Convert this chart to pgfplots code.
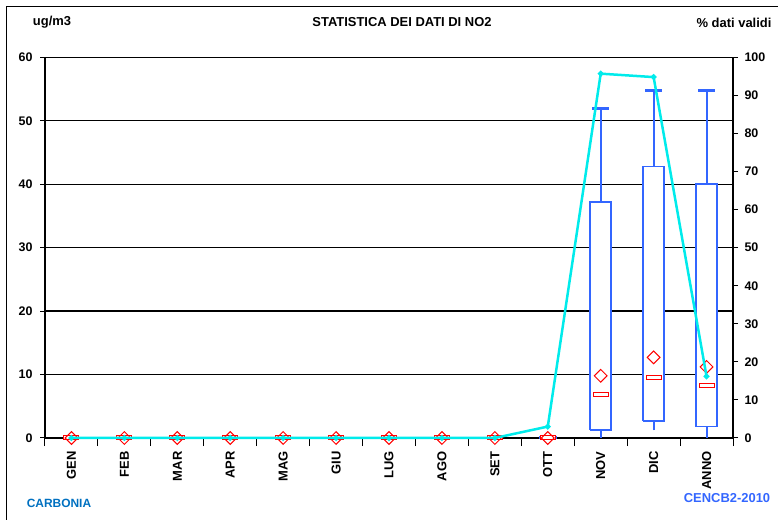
\documentclass[border=0pt]{standalone}
\usepackage{fontspec}
\setmainfont{Liberation Sans}
\usepackage{pgfplots}
\pgfplotsset{compat=1.18}
\definecolor{boxblue}{RGB}{51,102,255}
\definecolor{linecyan}{RGB}{0,235,235}
\definecolor{carb}{RGB}{0,112,192}
\pgfdeclareplotmark{medrect}{\pgfpathrectangle{\pgfpoint{-7.5bp}{-2bp}}{\pgfpoint{15bp}{4bp}}\pgfusepathqfillstroke}
\newcommand{\lbl}{\bfseries\fontsize{12.5}{12.5}\selectfont}
\newcommand{\ttl}{\bfseries\fontsize{13}{13}\selectfont}
\pgfplotsset{base/.style={at={(45bp,82bp)}, anchor=south west,
  scale only axis, width=688bp, height=380.7bp,
  xmin=-0.5, xmax=12.5, clip=false,
  /pgf/number format/assume math mode=true}}
\begin{document}
\begin{tikzpicture}
\useasboundingbox (0,0) rectangle (778bp,520bp);
\draw[line width=1bp] (6.5bp,0) -- (6.5bp,513bp) -- (778bp,513bp);
\node[font=\ttl] at (52bp,497.5bp) {ug/m3};
\node[font=\ttl] at (402bp,497.5bp) {STATISTICA DEI DATI DI NO2};
\node[font=\ttl] at (734bp,497.5bp) {\% dati validi};
\node[font=\bfseries\fontsize{12}{12}\selectfont, text=carb] at (59bp,17bp) {CARBONIA};
\node[font=\ttl, text=boxblue] at (727bp,22bp) {CENCB2-2010};
% axis 1: left scale, categories
\begin{axis}[base,
  ymin=0, ymax=60,
  axis x line*=bottom, axis y line*=left,
  axis line style={line width=1.5bp},
  x axis line style={line width=2bp},
  ytick={0,10,...,60},
  xtick={0,...,12},
  xticklabels={GEN,FEB,MAR,APR,MAG,GIU,LUG,AGO,SET,OTT,NOV,DIC,ANNO},
  minor xtick={-0.5,0.5,...,12.5},
  major x tick style={draw=none},
  minor x tick style={black, line width=1bp},
  minor tick length=8bp,
  y tick style={black, line width=1bp},
  major tick length=5bp,
  tick align=outside,
  xticklabel style={rotate=90, anchor=east, font=\fontsize{13}{13}\selectfont\bfseries},
  xticklabel shift=5bp,
  yticklabel style={font=\lbl, xshift=-4bp},
]
\end{axis}
% axis 2: grid lines (behind the boxes) and box plots (ug/m3)
\begin{axis}[base, ymin=0, ymax=60, hide axis, unbounded coords=jump]
\addplot[black, line width=1.2bp] coordinates {(-0.5,10) (9.8,10) (10,nan) (10.2,10) (10.8,10) (11,nan) (11.2,10) (11.8,10) (12,nan) (12.2,10) (12.5,10)};
\addplot[black, line width=1.2bp] coordinates {(-0.5,20) (9.8,20) (10,nan) (10.2,20) (10.8,20) (11,nan) (11.2,20) (11.8,20) (12,nan) (12.2,20) (12.5,20)};
\addplot[black, line width=1.2bp] coordinates {(-0.5,30) (9.8,30) (10,nan) (10.2,30) (10.8,30) (11,nan) (11.2,30) (11.8,30) (12,nan) (12.2,30) (12.5,30)};
\addplot[black, line width=1.2bp] coordinates {(-0.5,40) (10.8,40) (11,nan) (11.2,40) (12.5,40)};
\addplot[black, line width=1.2bp] coordinates {(-0.5,50) (12.5,50)};
\addplot[black, line width=1.2bp] coordinates {(-0.5,60) (12.5,60)};
% whiskers (min to Q1, Q3 to max)
\addplot[boxblue, line width=2bp] coordinates {(10,0) (10,1.3)};
\addplot[boxblue, line width=2bp] coordinates {(10,37.2) (10,52.0)};
\addplot[boxblue, line width=2bp] coordinates {(11,1.2) (11,2.7)};
\addplot[boxblue, line width=2bp] coordinates {(11,42.8) (11,54.8)};
\addplot[boxblue, line width=2bp] coordinates {(12,0) (12,1.8)};
\addplot[boxblue, line width=2bp] coordinates {(12,40.0) (12,54.8)};
% boxes (Q1 to Q3)
\addplot[draw=boxblue, fill=white, line width=1.8bp, line join=miter] coordinates {(9.8,1.3) (10.2,1.3) (10.2,37.2) (9.8,37.2) (9.8,1.3)};
\addplot[draw=boxblue, fill=white, line width=1.8bp, line join=miter] coordinates {(10.8,2.7) (11.2,2.7) (11.2,42.8) (10.8,42.8) (10.8,2.7)};
\addplot[draw=boxblue, fill=white, line width=1.8bp, line join=miter] coordinates {(11.8,1.8) (12.2,1.8) (12.2,40.0) (11.8,40.0) (11.8,1.8)};
\addplot[draw=boxblue, line width=3bp] coordinates {(8.83,0) (9.17,0)};
% whisker caps
\addplot[boxblue, line width=3bp] coordinates {(9.84,52.0) (10.16,52.0)};
\addplot[boxblue, line width=3bp] coordinates {(10.84,54.8) (11.16,54.8)};
\addplot[boxblue, line width=3bp] coordinates {(11.84,54.8) (12.16,54.8)};
% medians
\addplot[only marks, mark=medrect, mark options={draw=red, fill=white, line width=1bp}] coordinates {(0,0) (1,0) (2,0) (3,0) (4,0) (5,0) (6,0) (7,0) (8,0) (9,0) (10,6.8) (11,9.5) (12,8.3)};
% means
\addplot[only marks, mark=square, mark size=4.5bp, mark options={rotate=45, draw=red, fill=none, line width=1bp}] coordinates {(0,0) (1,0) (2,0) (3,0) (4,0) (5,0) (6,0) (7,0) (8,0) (9,0) (10,9.8) (11,12.7) (12,11.2)};
\end{axis}
% axis 3: % valid data (right scale)
\begin{axis}[base,
  ymin=0, ymax=100,
  axis x line=none, axis y line*=right,
  axis line style={line width=1.5bp},
  ytick={0,10,...,100},
  y tick style={black, line width=1bp},
  major tick length=5bp,
  tick align=outside,
  yticklabel style={font=\lbl, xshift=3bp},
]
\addplot[linecyan, line width=2.5bp, mark=*, mark size=1.5bp] coordinates {(0,0) (1,0) (2,0) (3,0) (4,0) (5,0) (6,0) (7,0) (8,0) (9,3.0) (10,95.7) (11,94.8) (12,16.2)};
\end{axis}
\end{tikzpicture}
\end{document}
